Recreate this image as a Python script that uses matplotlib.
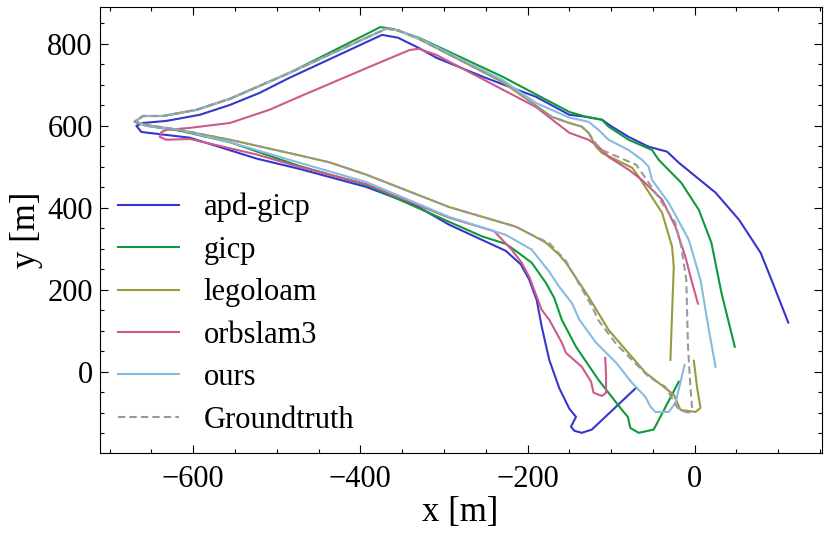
import matplotlib
matplotlib.use("Agg")
import matplotlib.pyplot as plt
from matplotlib.ticker import MultipleLocator

# ---- data ----
apd_x = [-70, -123, -135, -144, -148, -142, -150, -162, -174, -183, -189, -198, -208, -226, -294,
         -333, -393, -473, -524, -604, -662, -668, -660, -632, -592, -556, -521, -485, -374,
         -355, -330, -309, -250, -190, -150, -130, -111, -99, -79, -55, -33, -19, 25, 53, 79, 92, 112]
apd_y = [-39, -141, -149, -144, -134, -110, -90, -40, 29, 110, 175, 225, 262, 295, 359,
         405, 451, 495, 520, 571, 585, 600, 607, 612, 627, 651, 680, 717, 822,
         815, 790, 766, 717, 671, 627, 622, 615, 598, 573, 549, 537, 510, 437, 371, 290, 224, 120]

gicp_x = [-19, -49, -67, -77, -80, -87, -115, -142, -159, -168, -178, -195, -214, -226, -254, -294,
          -393, -473, -556, -616, -656, -670, -660, -636, -596, -556, -485, -376,
          -360, -330, -230, -150, -130, -111, -103, -79, -51, -43, -16, 5, 20, 32, 48]
gicp_y = [-24, -141, -149, -137, -110, -93, -20, 61, 127, 180, 217, 266, 295, 312, 330, 366,
          456, 502, 560, 588, 600, 610, 624, 624, 639, 666, 729, 841,
          836, 815, 720, 634, 622, 615, 598, 566, 541, 517, 461, 395, 315, 193, 61]

lego_x = [-1, 3, 7, 1, -17, -25, -59, -103, -127, -154, -162, -178, -195, -214, -294,
          -393, -437, -473, -556, -616, -656, -670, -660, -636, -596, -556, -485, -369,
          -355, -330, -230, -171, -150, -135, -127, -118, -111, -75, -67, -39, -27, -25, -27, -29]
lego_y = [27, -40, -88, -98, -93, -56, -2, 102, 183, 266, 285, 315, 334, 354, 402,
          481, 511, 528, 566, 590, 602, 610, 624, 624, 639, 666, 729, 837,
          833, 812, 707, 622, 607, 598, 583, 549, 534, 498, 476, 388, 305, 256, 144, 29]

orb_x = [-107, -106, -106, -111, -121, -124, -135, -154, -159, -174, -183, -198, -207, -219, -240,
         -294, -393, -473, -524, -604, -632, -640, -638, -632, -604, -556, -509, -473, -389, -341,
         -330, -309, -190, -150, -127, -115, -103, -79, -63, -51, -39, -23, -11, -4, 4]
orb_y = [34, -10, -51, -59, -51, -24, 12, 46, 71, 127, 151, 232, 266, 298, 343,
         376, 458, 500, 530, 568, 566, 573, 585, 590, 595, 607, 639, 671, 744, 785,
         788, 773, 646, 583, 566, 549, 524, 493, 468, 444, 420, 354, 280, 224, 166]

ours_x = [-12, -23, -31, -47, -53, -59, -75, -94, -118, -138, -147, -162, -174, -195, -226,
          -294, -393, -473, -556, -616, -656, -670, -660, -636, -596, -556, -485, -369, -355, -330,
          -230, -190, -150, -127, -115, -103, -79, -63, -55, -51, -31, -7, 7, 17, 25]
ours_y = [17, -76, -98, -98, -85, -61, -27, 22, 71, 127, 168, 207, 244, 298, 334,
          378, 463, 510, 560, 590, 600, 610, 624, 624, 639, 666, 729, 837, 833, 814,
          712, 656, 620, 610, 590, 566, 541, 517, 500, 468, 412, 322, 224, 102, 12]

gt_x = [-7, -19, -35, -55, -94, -115, -123, -154, -174, -195, -214, -294, -393, -437, -473,
        -556, -616, -656, -670, -660, -636, -596, -556, -485, -369, -355, -330, -230, -171, -150,
        -135, -127, -118, -111, -70, -63, -47, -23, -16, -10, -8, -5, -3, -7]
gt_y = [-100, -93, -37, -12, 68, 125, 160, 270, 314, 334, 354, 402, 481, 511, 528,
        566, 590, 602, 610, 624, 624, 639, 666, 729, 837, 833, 812, 707, 622, 607,
        598, 583, 556, 541, 505, 485, 437, 363, 305, 224, 61, -40, -90, -100]

labels = ["apd-gicp", "gicp", "legoloam", "orbslam3", "ours", "Groundtruth"]

# ---- style ----
plt.rcParams['font.family'] = ['Liberation Serif', 'DejaVu Serif']

fig = plt.figure(figsize=(8.3, 5.36), dpi=100)
ax = fig.add_axes([0.12, 0.155, 0.870, 0.832])

colors = ['#3636cc', '#0f9a3a', '#9a9a3c', '#cc5a8c', '#88bbdd', '#999999']
series = [(apd_x, apd_y), (gicp_x, gicp_y), (lego_x, lego_y), (orb_x, orb_y), (ours_x, ours_y)]
for (xs, ys), c, lab in zip(series, colors[:5], labels[:5]):
    ax.plot(xs, ys, color=c, lw=1.5, label=lab, solid_joinstyle='round')
ax.plot(gt_x, gt_y, color=colors[5], lw=1.5, ls=(0, (3.5, 2)), label=labels[5])

ax.set_xlim(-712, 152)
ax.set_ylim(-198, 890)
ax.xaxis.set_major_locator(MultipleLocator(200))
ax.xaxis.set_minor_locator(MultipleLocator(50))
ax.yaxis.set_major_locator(MultipleLocator(200))
ax.yaxis.set_minor_locator(MultipleLocator(50))
ax.tick_params(which='both', direction='in', top=True, right=True, labelsize=22)
ax.tick_params(which='major', length=6, width=0.8)
ax.tick_params(which='minor', length=3, width=0.8)
ax.tick_params(axis='x', which='both', pad=9)
ax.tick_params(axis='y', which='both', pad=5)
for s in ax.spines.values():
    s.set_linewidth(0.8)

ax.set_xlabel('x [m]', fontsize=25, labelpad=1)
ax.set_ylabel('y [m]', fontsize=25, labelpad=3)

ax.legend(loc='lower left', frameon=False, fontsize=22, handlelength=2.0,
          labelspacing=0.44, handletextpad=0.8, borderaxespad=0.2,
          bbox_to_anchor=(0.0, 0.0))

fig.savefig('out.png', dpi=100)
